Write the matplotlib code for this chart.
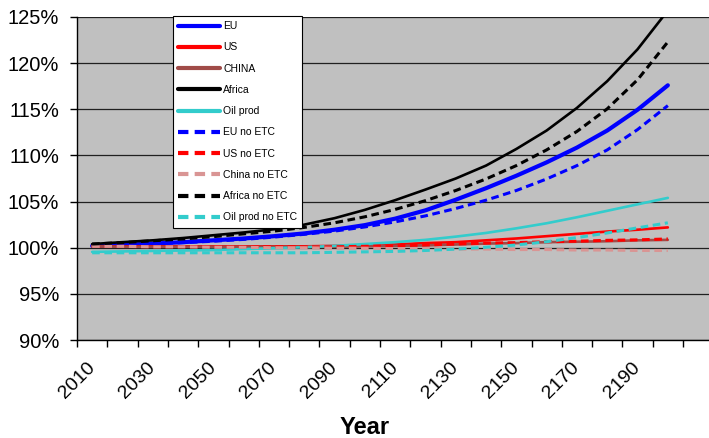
import numpy as np
import matplotlib
matplotlib.use("Agg")
import matplotlib.pyplot as plt
from matplotlib.ticker import FixedLocator, FuncFormatter

plt.rcParams['font.family'] = ['Liberation Sans', 'DejaVu Sans']

years = np.arange(2010, 2201, 10)

# relative index (%) per decade
eu = [100.2, 100.3, 100.45, 100.6, 100.8, 101.0, 101.25, 101.55, 101.95, 102.45,
      103.15, 104.05, 105.2, 106.45, 107.8, 109.25, 110.85, 112.7, 114.95, 117.6]
us = [100.15, 100.15, 100.15, 100.15, 100.15, 100.15, 100.15, 100.15, 100.2, 100.25,
      100.35, 100.5, 100.6, 100.8, 101.0, 101.25, 101.5, 101.75, 101.95, 102.2]
china = [100.15, 100.1, 100.1, 100.1, 100.1, 100.1, 100.1, 100.1, 100.1, 100.15,
         100.2, 100.25, 100.35, 100.45, 100.5, 100.6, 100.65, 100.7, 100.8, 100.85]
africa = [100.4, 100.6, 100.8, 101.05, 101.35, 101.65, 102.0, 102.5, 103.2, 104.1,
          105.15, 106.3, 107.5, 108.9, 110.7, 112.7, 115.15, 118.05, 121.5, 125.7]
oil = [99.55, 99.6, 99.65, 99.7, 99.75, 99.85, 99.95, 100.05, 100.2, 100.4,
       100.6, 100.85, 101.2, 101.6, 102.1, 102.65, 103.3, 104.0, 104.7, 105.4]
eu_no = [100.2, 100.3, 100.4, 100.55, 100.7, 100.9, 101.15, 101.45, 101.8, 102.25,
         102.8, 103.45, 104.25, 105.15, 106.2, 107.45, 108.9, 110.6, 112.8, 115.4]
us_no = [100.15, 100.15, 100.1, 100.1, 100.1, 100.1, 100.1, 100.1, 100.1, 100.15,
         100.2, 100.3, 100.4, 100.5, 100.55, 100.65, 100.7, 100.8, 100.85, 100.95]
china_no = [100.15, 100.15, 100.1, 100.1, 100.05, 100.05, 100.0, 100.0, 99.95, 99.95,
            99.9, 99.9, 99.85, 99.85, 99.8, 99.8, 99.75, 99.75, 99.7, 99.7]
africa_no = [100.4, 100.55, 100.75, 100.95, 101.2, 101.5, 101.8, 102.2, 102.7, 103.35,
             104.15, 105.1, 106.2, 107.45, 108.9, 110.6, 112.6, 115.05, 118.2, 122.3]
oil_no = [99.45, 99.45, 99.45, 99.45, 99.45, 99.45, 99.45, 99.45, 99.5, 99.55,
          99.6, 99.7, 99.85, 100.05, 100.3, 100.65, 101.1, 101.6, 102.15, 102.7]

series = [
    ("EU", eu, "#0000FF", "-", 3.0),
    ("US", us, "#FF0000", "-", 1.9),
    ("CHINA", china, "#A04B48", "-", 1.9),
    ("Africa", africa, "#000000", "-", 1.9),
    ("Oil prod", oil, "#33CCCC", "-", 1.9),
    ("EU no ETC", eu_no, "#0000FF", "--", 2.2),
    ("US no ETC", us_no, "#FF0000", "--", 2.2),
    ("China no ETC", china_no, "#D99594", "--", 2.2),
    ("Africa no ETC", africa_no, "#000000", "--", 2.2),
    ("Oil prod no ETC", oil_no, "#33CCCC", "--", 2.2),
]

fig = plt.figure(figsize=(7.09, 4.38), dpi=100)
ax = fig.add_axes([77 / 709, 1 - 340 / 438, 1 - 77 / 709, (340 - 17) / 438])
ax.set_facecolor("#C0C0C0")

for name, vals, col, ls, lw in series:
    kw = dict(dashes=(2.5, 1.5)) if ls == "--" else {}
    ax.plot(years, vals, color=col, lw=lw, ls=ls, label=name,
            solid_capstyle="round", solid_joinstyle="round",
            dash_capstyle="butt", **kw)

ax.set_xlim(2005, 2005 + (709 - 77) / 3.03)
ax.set_ylim(90, 125)
ax.yaxis.set_major_locator(FixedLocator(np.arange(90, 126, 5)))
ax.yaxis.set_major_formatter(FuncFormatter(lambda v, p: f"{v:.0f}%"))
ax.grid(axis="y", color="#202020", lw=0.9)
ax.set_axisbelow(True)

# tick marks between decades, labels every 20 years
ax.xaxis.set_major_locator(FixedLocator(np.arange(2005, 2216, 10)))
ax.xaxis.set_major_formatter(FuncFormatter(lambda v, p: ""))
ax.xaxis.set_minor_locator(FixedLocator(np.arange(2010, 2191, 20)))
ax.xaxis.set_minor_formatter(FuncFormatter(lambda v, p: f"{v:.0f}"))
ax.tick_params(axis="x", which="major", direction="out", length=5, width=1)
ax.tick_params(axis="x", which="minor", length=0, pad=18, labelsize=14)
ax.tick_params(axis="y", direction="out", length=5, width=1, pad=8, labelsize=14.5)
for lab in ax.xaxis.get_minorticklabels():
    lab.set_rotation(45)
    lab.set_ha("right")
    lab.set_va("center")
    lab.set_rotation_mode("anchor")

for s in ("top", "right"):
    ax.spines[s].set_visible(False)
for s in ("left", "bottom"):
    ax.spines[s].set_color("black")
    ax.spines[s].set_linewidth(1)

fig.text(365 / 709, 1 - 428 / 438, "Year", ha="center", va="center",
         fontsize=17, fontweight="bold")

leg = ax.legend(loc="upper left", bbox_to_anchor=(173 / 709, 1 - 16 / 438),
                bbox_transform=fig.transFigure, borderaxespad=0, fontsize=7.5,
                frameon=True, fancybox=False, framealpha=1, edgecolor="black",
                handlelength=4.0, handletextpad=0.3, labelspacing=1.08,
                borderpad=0.5)
leg.get_frame().set_linewidth(0.8)
for h in leg.get_lines():
    h.set_linewidth(3.0)

fig.savefig("out.png", dpi=100)
